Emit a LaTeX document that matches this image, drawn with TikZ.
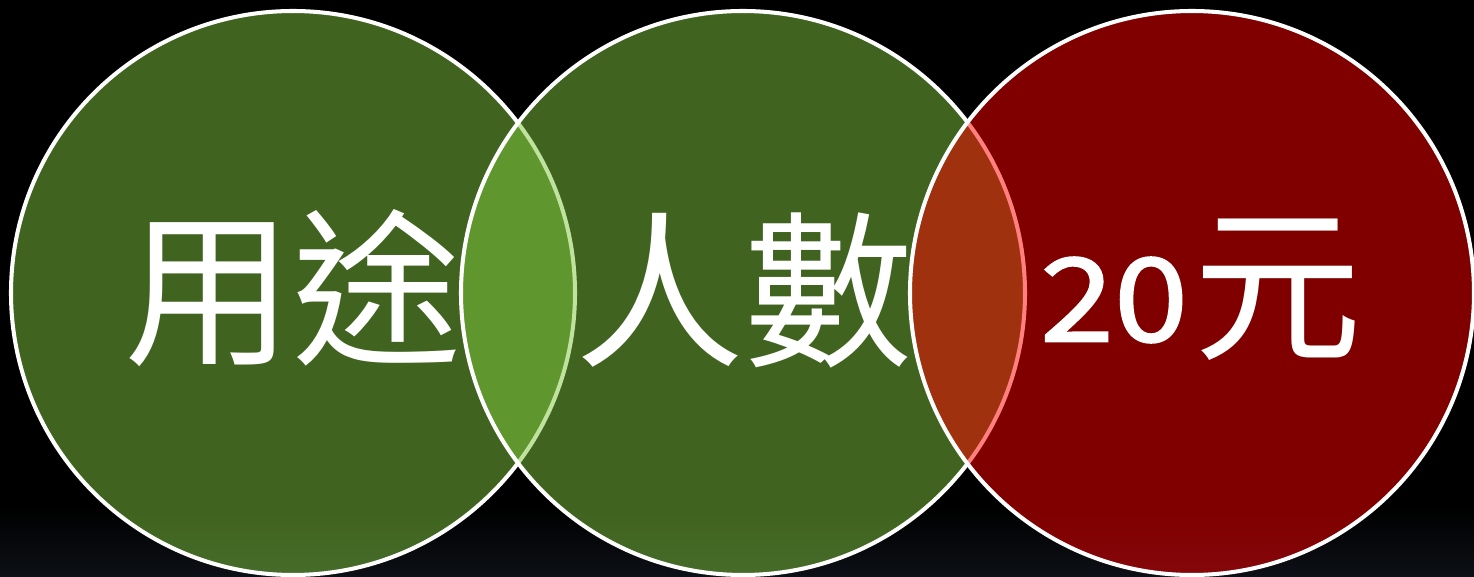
\documentclass[tikz,border=0pt]{standalone}
\usepackage{fontspec}
\newfontfamily\cjk{Noto Sans CJK TC}
\newfontfamily\numfont{Noto Sans CJK TC}[FakeBold=1.6, FakeStretch=1.15]
\usetikzlibrary{positioning}

\definecolor{bgslate}{RGB}{13,16,22}
\definecolor{leafgreen}{RGB}{128,200,62}
\definecolor{brickred}{RGB}{255,0,0}

\begin{document}
\begin{tikzpicture}[
  ring/.style     ={circle, draw=white, line width=1.15pt, fill opacity=0.5,
                    minimum size=5.64cm, inner sep=0pt, outer sep=0pt},
  greenring/.style={ring, fill=leafgreen},
  redring/.style  ={ring, fill=brickred},
  word/.style     ={text=white, inner sep=0pt, font=\cjk\fontsize{48}{52}\selectfont},
  digits/.style   ={text=white, inner sep=0pt, font=\numfont\fontsize{33}{36}\selectfont},
]
% Background -- black, fading to a dark slate along the bottom edge.
\fill[black] (0,0) rectangle (14.74,5.77);
\shade[top color=black, bottom color=bgslate] (0,0) rectangle (14.74,0.7);
\useasboundingbox (0,0) rectangle (14.74,5.77);

% Three overlapping circles, left to right (later ones tint the earlier borders).
\node[greenring] (usage)  at (2.93,2.84)  {};
\node[greenring] (people) at (7.43,2.84)  {};
\node[redring]   (price)  at (11.92,2.84) {};

% Labels on top.
\node[word]   (usagetxt)  at (2.93,2.89)  {用途};
\node[word]   (peopletxt) at (7.44,2.87)  {人數};
\node[digits] (pricenum)  at (11.14,2.77) {20};
\node[word]   (priceunit) at (12.78,2.87) {元};
\end{tikzpicture}
\end{document}
